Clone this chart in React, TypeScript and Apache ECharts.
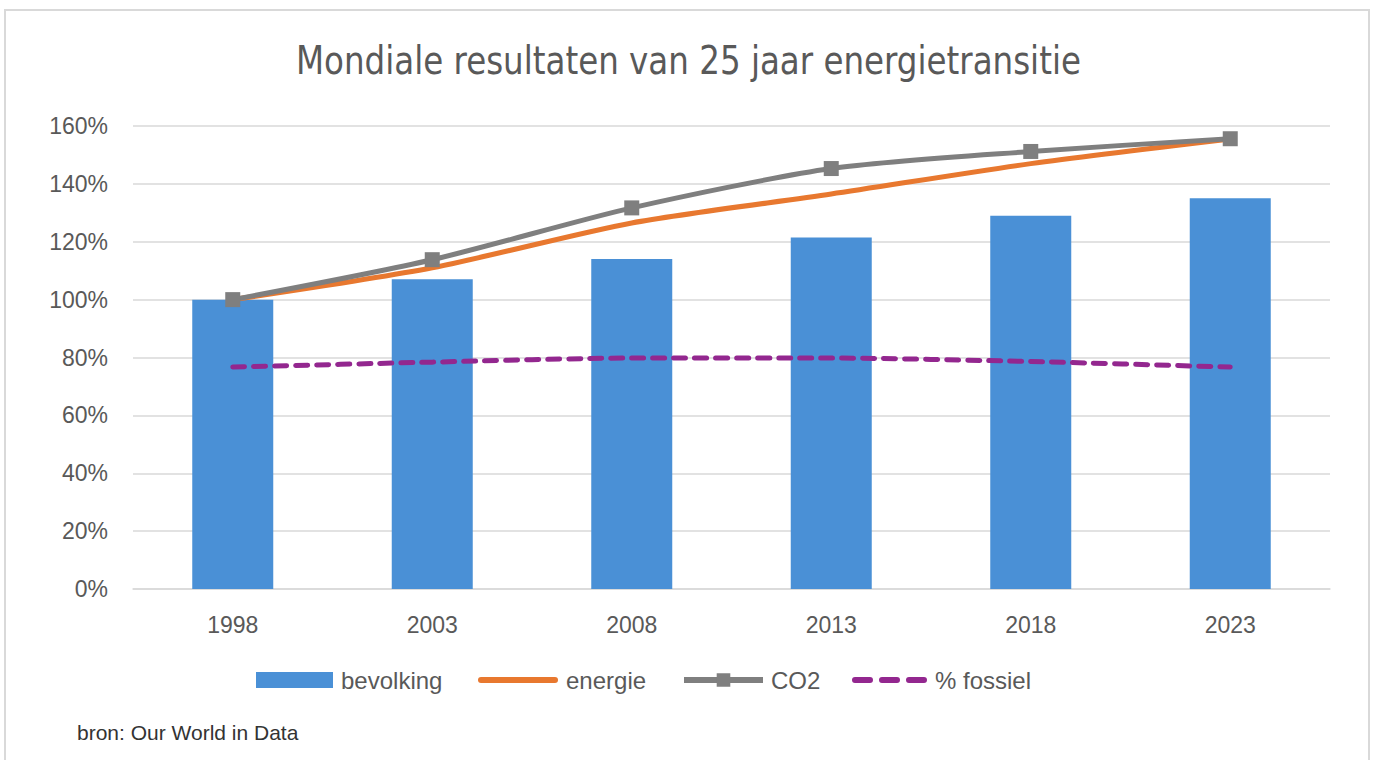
import React, { useEffect, useRef } from "react";
import * as echarts from "echarts";

const years = ["1998", "2003", "2008", "2013", "2018", "2023"];
const bevolking = [100, 107, 114, 121.5, 129, 135];
const energie = [100, 111, 126.5, 136.5, 147, 155.5];
const co2 = [100, 113.8, 131.7, 145.3, 151.2, 155.6];
const fossiel = [76.7, 78.4, 79.8, 79.8, 78.6, 76.7];
const yTicks = [0, 160, 20];

const NARROW = "'Liberation Sans Narrow', 'DejaVu Sans Condensed', 'Roboto', sans-serif";
const SANS = "'Liberation Sans', 'Noto Sans', sans-serif";

const ENERGY_ICON = "path://M3,0 H77 A3,3 0 0 1 77,6 H3 A3,3 0 0 1 3,0 Z";
const FOSSIL_ICON =
  "path://M3,0 H18 A3,3 0 0 1 18,6 H3 A3,3 0 0 1 3,0 Z M30,0 H45 A3,3 0 0 1 45,6 H30 A3,3 0 0 1 30,0 Z M57,0 H72 A3,3 0 0 1 72,6 H57 A3,3 0 0 1 57,0 Z";

export default function App() {
  const ref = useRef<HTMLDivElement>(null);
  useEffect(() => {
    const chart = echarts.init(ref.current!, null, { renderer: "svg" });
    const legendBase = {
      top: 668,
      padding: 0,
      itemGap: 0,
      textStyle: { fontFamily: SANS, fontSize: 24, color: "#595959", padding: [0, 0, 0, 3] },
    };
    chart.setOption({
      animation: false,
      backgroundColor: "#ffffff",
      legend: [
        { ...legendBase, left: 256, itemWidth: 77, itemHeight: 16, data: [{ name: "bevolking", icon: "rect" }] },
        { ...legendBase, left: 478, itemWidth: 80, itemHeight: 6, data: [{ name: "energie", icon: ENERGY_ICON }] },
        {
          ...legendBase,
          left: 681,
          itemWidth: 79,
          itemHeight: 17,
          lineStyle: { width: 6 },
          data: ["CO2"],
        },
        { ...legendBase, left: 852, itemWidth: 75, itemHeight: 6, data: [{ name: "% fossiel", icon: FOSSIL_ICON }] },
      ],
      graphic: [
        {
          type: "rect",
          shape: { x: 5, y: 10, width: 1364, height: 760 },
          style: { fill: "none", stroke: "#d9d9d9", lineWidth: 2 },
          silent: true,
        },
        {
          type: "text",
          x: 688.5,
          y: 41,
          scaleX: 0.927,
          style: {
            text: "Mondiale resultaten van 25 jaar energietransitie",
            fontFamily: NARROW,
            fontSize: 39,
            fill: "#595959",
            align: "center",
            verticalAlign: "top",
          },
        },
        {
          type: "text",
          left: 77,
          top: 722,
          style: { text: "bron: Our World in Data", fontFamily: SANS, fontSize: 21, fill: "#333333" },
        },
      ],
      grid: { left: 133, right: 43, top: 126, bottom: 171 },
      xAxis: {
        type: "category",
        data: years,
        axisLine: { show: true, lineStyle: { color: "#d9d9d9", width: 1.5 } },
        axisTick: { show: false },
        axisLabel: { margin: 24, fontFamily: SANS, fontSize: 23, color: "#595959" },
      },
      yAxis: {
        type: "value",
        min: yTicks[0],
        max: yTicks[1],
        interval: yTicks[2],
        axisLine: { show: false },
        axisTick: { show: false },
        splitLine: { lineStyle: { color: "#d9d9d9", width: 1.5 } },
        axisLabel: { formatter: "{value}%", margin: 25, fontFamily: SANS, fontSize: 23, color: "#595959" },
      },
      series: [
        {
          name: "bevolking",
          type: "bar",
          data: bevolking,
          barWidth: 81,
          itemStyle: { color: "#4a90d6" },
        },
        {
          name: "energie",
          type: "line",
          data: energie,
          smooth: 0.25,
          symbol: "none",
          lineStyle: { color: "#e8782f", width: 5 },
          itemStyle: { color: "#e8782f" },
          z: 3,
        },
        {
          name: "CO2",
          type: "line",
          data: co2,
          smooth: 0.25,
          symbol: "rect",
          symbolSize: 15,
          lineStyle: { color: "#7f7f7f", width: 5 },
          itemStyle: { color: "#7f7f7f" },
          z: 4,
        },
        {
          name: "% fossiel",
          type: "line",
          data: fossiel,
          smooth: 0.25,
          symbol: "none",
          lineStyle: { color: "#93278f", width: 5, type: [12, 9], cap: "round" },
          itemStyle: { color: "#93278f" },
          z: 5,
        },
      ],
    });
    return () => chart.dispose();
  }, []);
  return <div ref={ref} style={{ position: "fixed", left: 0, top: 0, width: 1373, height: 760 }} />;
}
